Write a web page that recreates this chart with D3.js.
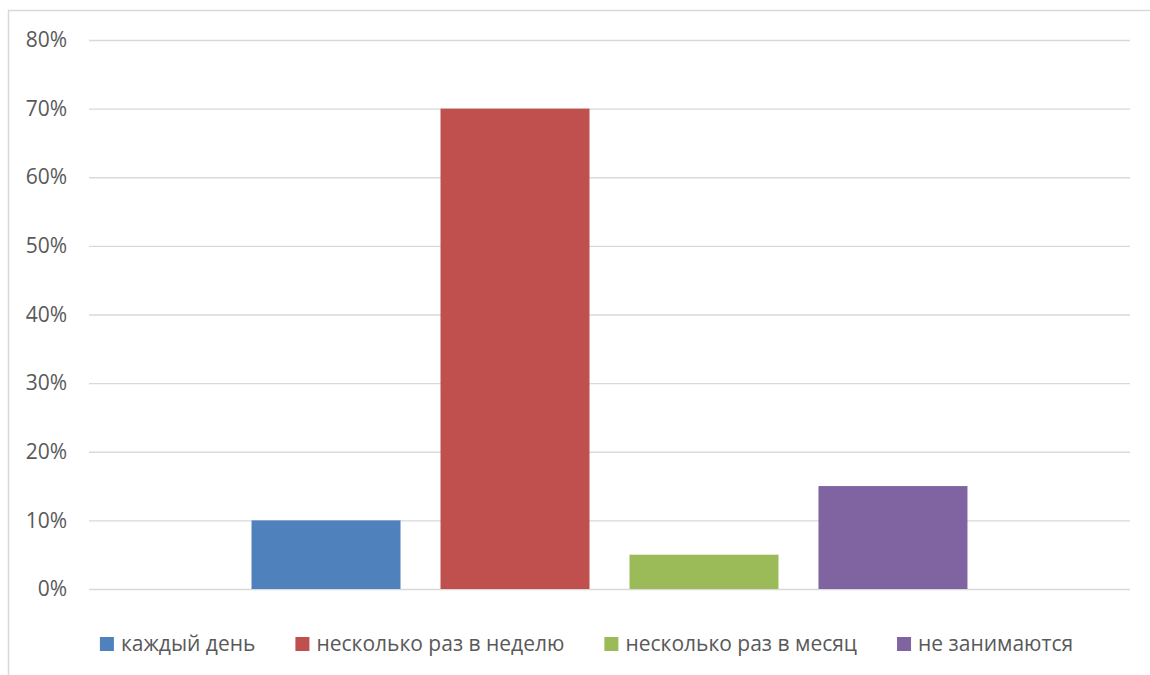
<!DOCTYPE html>
<html>
<head>
<meta charset="utf-8">
<script src="https://cdn.jsdelivr.net/npm/d3@7"></script>
<style>
  html, body { margin: 0; padding: 0; background: #fff; }
  svg { display: block; }
  text { font-family: "Open Sans", "Noto Sans", sans-serif; fill: #595959; }
</style>
</head>
<body>
<svg id="chart" width="1150" height="675"></svg>
<script>
// How often people exercise: share of respondents per answer
const seriesNames = ["каждый день", "несколько раз в неделю", "несколько раз в месяц", "не занимаются"];
const seriesValues = [0.10, 0.70, 0.05, 0.15];
const seriesColors = ["#4f81bd", "#c0504d", "#9bbb59", "#8064a2"];
const yTicks = [0, 0.1, 0.2, 0.3, 0.4, 0.5, 0.6, 0.7, 0.8];

const svg = d3.select("#chart");
const W = 1150, H = 675;
const FONT = 21;

// chart frame (top and left edges visible)
svg.append("path")
  .attr("d", `M8.5,${H} V10.5 H${W}`)
  .attr("fill", "none")
  .attr("stroke", "#d9d9d9")
  .attr("stroke-width", 1.5);

const plot = { left: 89, right: 1130, top: 40, bottom: 589 };

const y = d3.scaleLinear().domain([0, 0.8]).range([plot.bottom, plot.top]);

// one category, four series side by side
const x = d3.scaleBand()
  .domain(seriesNames)
  .range([plot.left, plot.right])
  .paddingInner(40 / 189)
  .paddingOuter(0.86);

// gridlines + y labels via axis
const yAxis = d3.axisLeft(y)
  .tickValues(yTicks)
  .tickFormat(d3.format(".0%"))
  .tickSize(-(plot.right - plot.left))
  .tickPadding(22);

const gy = svg.append("g")
  .attr("transform", `translate(${plot.left},0)`)
  .call(yAxis);
gy.attr("font-size", null).attr("font-family", null);
gy.select(".domain").remove();
gy.selectAll(".tick line")
  .attr("stroke", "#d9d9d9")
  .attr("stroke-width", 1.3);
gy.selectAll(".tick text")
  .style("font-size", FONT + "px")
  .attr("fill", "#595959");

// bars
svg.append("g")
  .selectAll("rect")
  .data(seriesNames.map((n, i) => ({ name: n, value: seriesValues[i], color: seriesColors[i] })))
  .join("rect")
  .attr("x", d => x(d.name))
  .attr("width", x.bandwidth())
  .attr("y", d => y(d.value))
  .attr("height", d => y(0) - y(d.value))
  .attr("fill", d => d.color);

// legend
const legend = svg.append("g");
const items = legend.selectAll("g")
  .data(seriesNames.map((n, i) => ({ name: n, color: seriesColors[i] })))
  .join("g");
items.append("rect")
  .attr("width", 14).attr("height", 14)
  .attr("y", -7)
  .attr("fill", d => d.color);
items.append("text")
  .attr("x", 21)
  .attr("dy", "0.35em")
  .style("font-size", FONT + "px")
  .text(d => d.name);

const gap = 40;
const widths = [];
items.each(function () {
  widths.push(21 + this.querySelector("text").getComputedTextLength());
});
const total = d3.sum(widths) + gap * (widths.length - 1);
const startX = 586.5 - total / 2;
items.attr("transform", (d, i) => {
  const tx = startX + d3.sum(widths.slice(0, i)) + gap * i;
  return `translate(${tx},644)`;
});
</script>
</body>
</html>
